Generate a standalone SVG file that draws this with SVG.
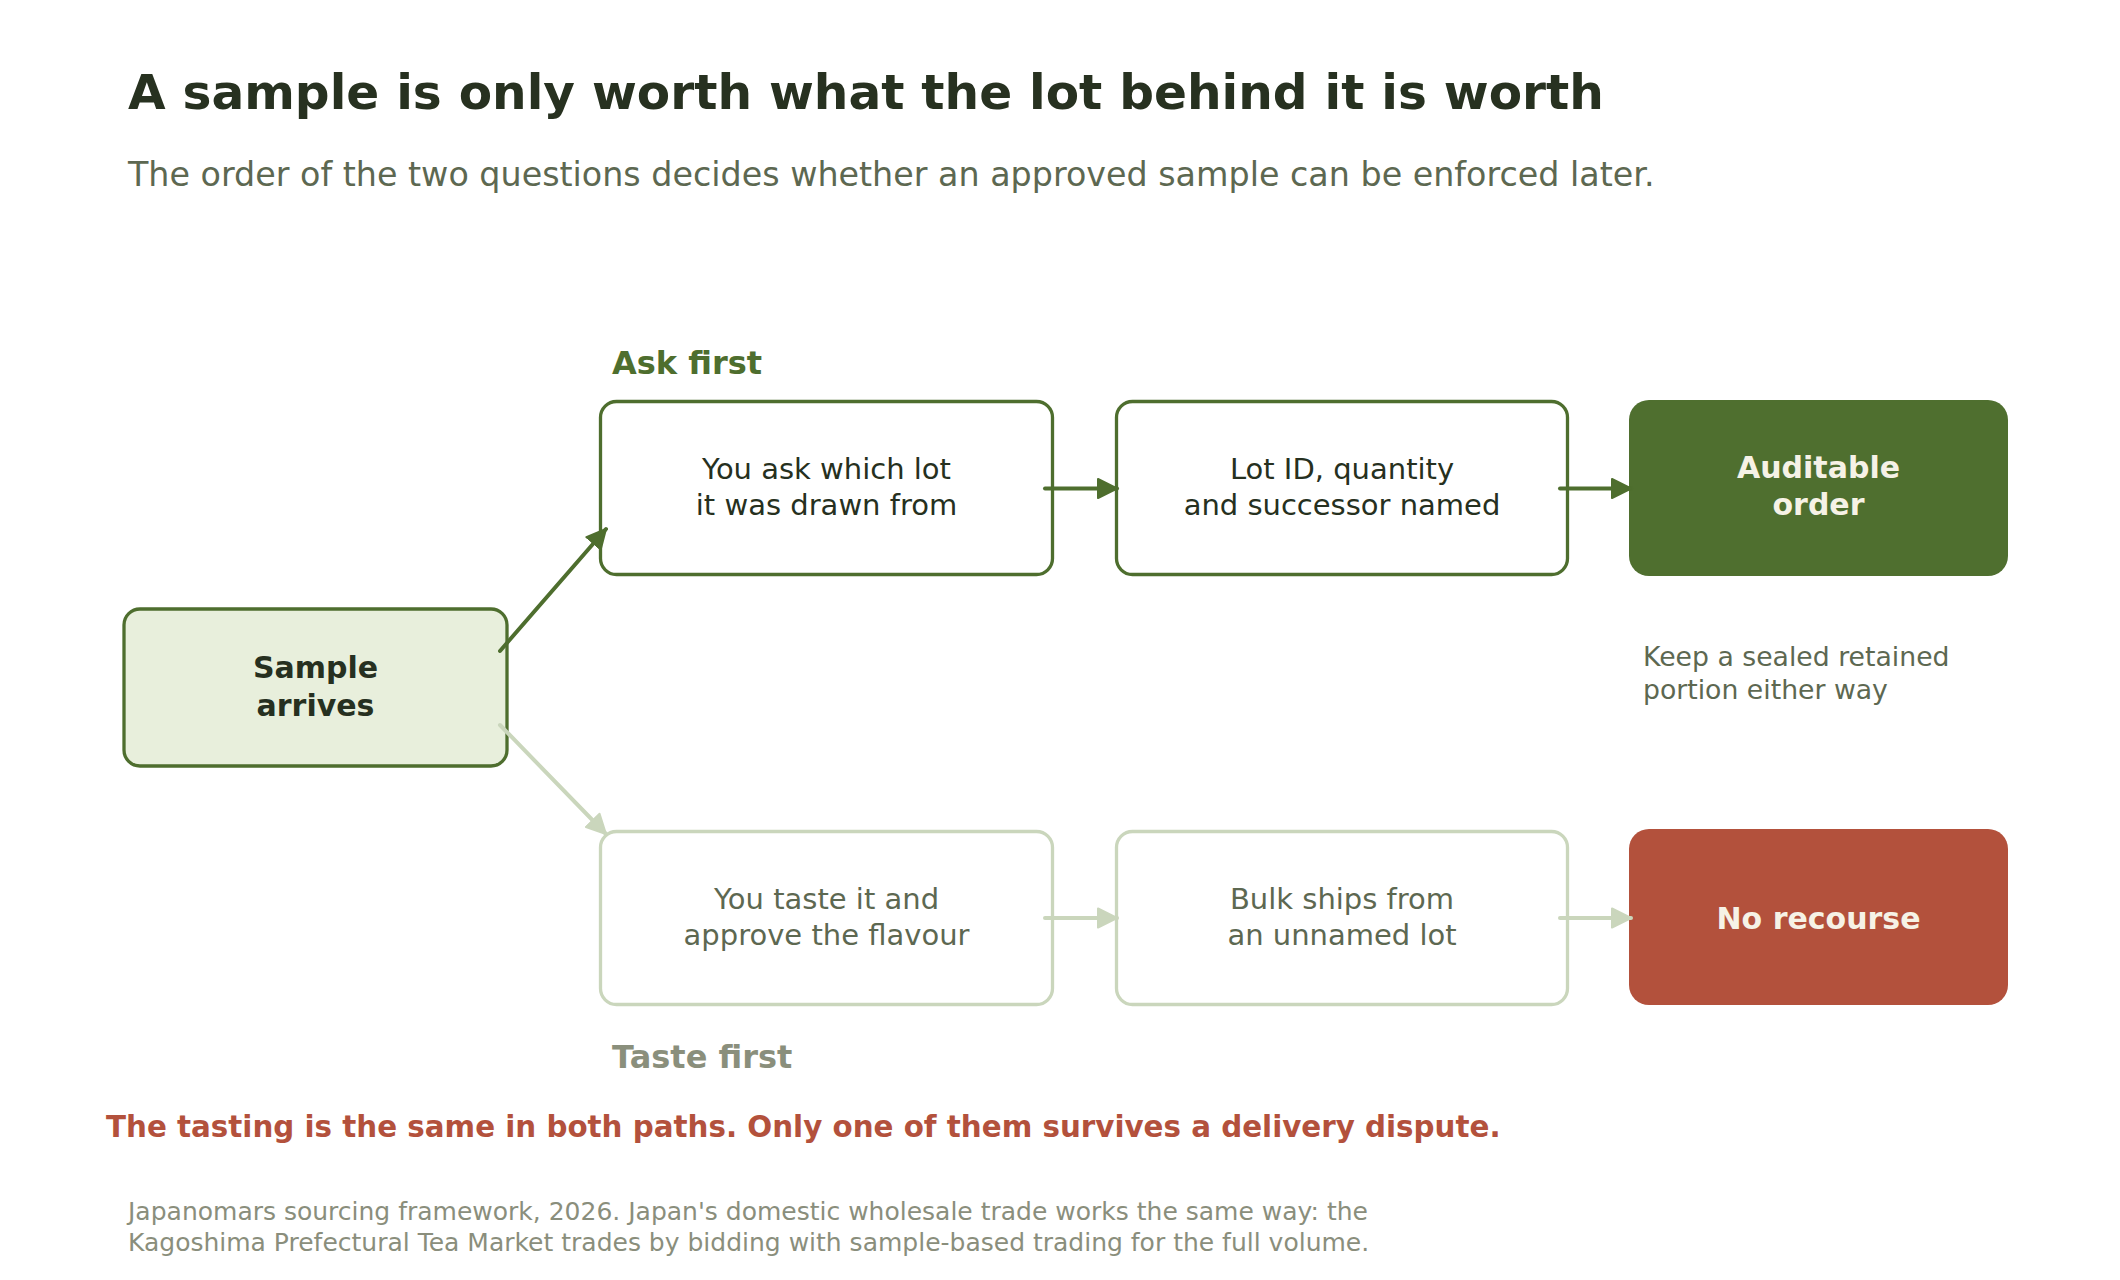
<svg xmlns="http://www.w3.org/2000/svg" width="2120" height="1280" viewBox="0 0 2120 1280">
  <style>
    text { font-family: "DejaVu Sans", "Liberation Sans", sans-serif; }
    .title { font-size: 48.6px; font-weight: bold; fill: #273120; }
    .sub { font-size: 33.35px; fill: #5d6851; }
    .lane { font-size: 32px; font-weight: bold; }
    .node-strong { fill: #ffffff; stroke: #4e6e2e; stroke-width: 3.3; }
    .node-weak { fill: #ffffff; stroke: #cad6bc; stroke-width: 3.3; }
    .t-strong { font-size: 29px; fill: #263020; text-anchor: middle; }
    .t-weak { font-size: 29px; fill: #5d6851; text-anchor: middle; }
    .t-bold { font-size: 30px; font-weight: bold; text-anchor: middle; }
    .edge-strong { stroke: #4e6e2e; stroke-width: 4; fill: none; stroke-linecap: round; }
    .edge-weak { stroke: #cad6bc; stroke-width: 4; fill: none; stroke-linecap: round; }
  </style>
  <defs>
    <marker id="ah-strong" markerUnits="userSpaceOnUse" markerWidth="24" markerHeight="24" refX="20" refY="11" orient="auto">
      <path d="M1,1.5 L20,11 L1,20.5 z" fill="#4e6e2e" stroke="#4e6e2e" stroke-width="2" stroke-linejoin="round"/>
    </marker>
    <marker id="ah-weak" markerUnits="userSpaceOnUse" markerWidth="24" markerHeight="24" refX="20" refY="11" orient="auto">
      <path d="M1,1.5 L20,11 L1,20.5 z" fill="#cad6bc" stroke="#cad6bc" stroke-width="2" stroke-linejoin="round"/>
    </marker>
  </defs>
  <rect width="2120" height="1280" fill="#ffffff"/>

  <g id="header">
    <text class="title" x="128" y="109">A sample is only worth what the lot behind it is worth</text>
    <text class="sub" x="128" y="186">The order of the two questions decides whether an approved sample can be enforced later.</text>
  </g>

  <text class="lane" x="612" y="374" fill="#4e6e2e">Ask first</text>
  <text class="lane" x="612" y="1068" fill="#8a8f7c">Taste first</text>

  <g id="node-sample">
    <rect x="124" y="609" width="383" height="157" rx="16" fill="#e8efdc" stroke="#4e6e2e" stroke-width="3.3"/>
    <text class="t-bold" x="315.5" y="678" fill="#263020">Sample</text>
    <text class="t-bold" x="315.5" y="716" fill="#263020">arrives</text>
  </g>

  <g id="node-ask">
    <rect class="node-strong" x="600.5" y="401.5" width="452" height="173" rx="16"/>
    <text class="t-strong" x="826.5" y="479">You ask which lot</text>
    <text class="t-strong" x="826.5" y="515">it was drawn from</text>
  </g>

  <g id="node-lotid">
    <rect class="node-strong" x="1116.5" y="401.5" width="451" height="173" rx="16"/>
    <text class="t-strong" x="1342" y="479">Lot ID, quantity</text>
    <text class="t-strong" x="1342" y="515">and successor named</text>
  </g>

  <g id="node-auditable">
    <rect x="1629" y="400" width="379" height="176" rx="20" fill="#4f6f2f"/>
    <text class="t-bold" x="1818.5" y="477.5" fill="#f6f2e6">Auditable</text>
    <text class="t-bold" x="1818.5" y="514.5" fill="#f6f2e6">order</text>
  </g>

  <g id="note-retained">
    <text x="1643" y="666" font-size="26.7" fill="#5d6851">Keep a sealed retained</text>
    <text x="1643" y="699" font-size="26.7" fill="#5d6851">portion either way</text>
  </g>

  <g id="node-taste">
    <rect class="node-weak" x="600.5" y="831.5" width="452" height="173" rx="16"/>
    <text class="t-weak" x="826.5" y="909">You taste it and</text>
    <text class="t-weak" x="826.5" y="945">approve the flavour</text>
  </g>

  <g id="node-bulk">
    <rect class="node-weak" x="1116.5" y="831.5" width="451" height="173" rx="16"/>
    <text class="t-weak" x="1342" y="909">Bulk ships from</text>
    <text class="t-weak" x="1342" y="945">an unnamed lot</text>
  </g>

  <g id="node-norecourse">
    <rect x="1629" y="829" width="379" height="176" rx="20" fill="#b3513c"/>
    <text class="t-bold" x="1818.5" y="929" fill="#f6f2e6">No recourse</text>
  </g>

  <g id="connectors">
    <line class="edge-strong" x1="500" y1="651" x2="606" y2="529" marker-end="url(#ah-strong)"/>
    <line class="edge-weak" x1="500" y1="725" x2="606" y2="834" marker-end="url(#ah-weak)"/>
    <line class="edge-strong" x1="1045" y1="488.5" x2="1117" y2="488.5" marker-end="url(#ah-strong)"/>
    <line class="edge-strong" x1="1560" y1="488.5" x2="1631" y2="488.5" marker-end="url(#ah-strong)"/>
    <line class="edge-weak" x1="1045" y1="918" x2="1117" y2="918" marker-end="url(#ah-weak)"/>
    <line class="edge-weak" x1="1560" y1="918" x2="1631" y2="918" marker-end="url(#ah-weak)"/>
  </g>

  <g id="footer">
    <text x="106" y="1137" font-size="29.35" font-weight="bold" fill="#b3513c">The tasting is the same in both paths. Only one of them survives a delivery dispute.</text>
    <text x="128" y="1220" font-size="25" fill="#8a8e7c">Japanomars sourcing framework, 2026. Japan's domestic wholesale trade works the same way: the</text>
    <text x="128" y="1251" font-size="25" fill="#8a8e7c">Kagoshima Prefectural Tea Market trades by bidding with sample-based trading for the full volume.</text>
  </g>
</svg>
